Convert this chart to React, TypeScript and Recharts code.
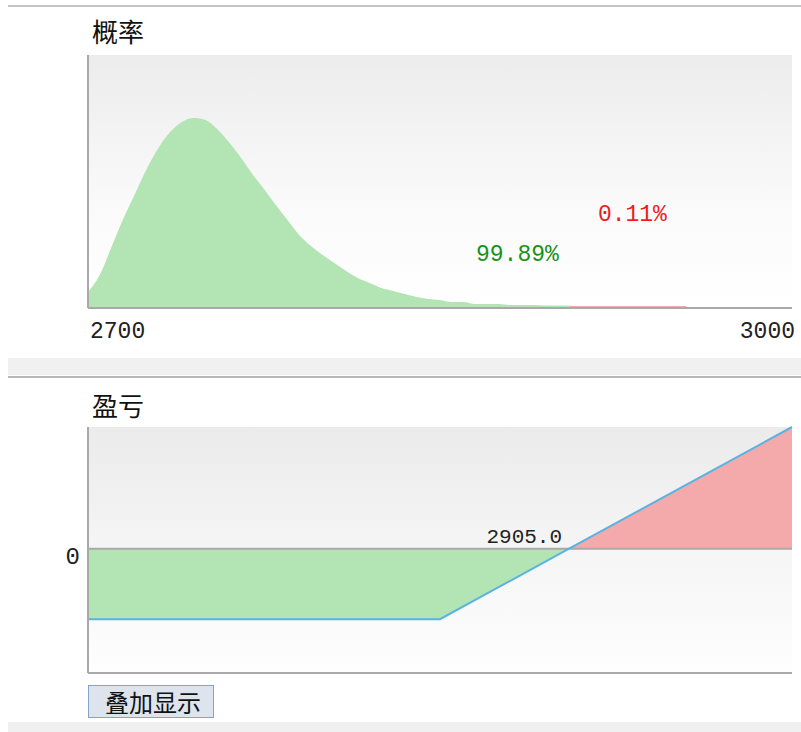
import React from 'react';
import {
  AreaChart,
  ComposedChart,
  Area,
  Line,
  XAxis,
  YAxis,
  CartesianGrid,
  ReferenceLine,
  ReferenceDot,
} from 'recharts';

// probability distribution of the underlying price at expiry
const prices = [
  2700, 2705, 2710, 2715, 2720, 2725, 2730, 2735, 2740, 2745, 2750, 2755, 2760,
  2765, 2770, 2775, 2780, 2785, 2790, 2795, 2800, 2805, 2810, 2815, 2820, 2825,
  2830, 2835, 2840, 2845, 2850, 2855, 2860, 2865, 2870, 2875, 2880, 2885, 2890,
  2895, 2900, 2905, 2910, 2915, 2920, 2925, 2930, 2935, 2940, 2945, 2950, 2955,
];
const density = [
  1.6, 3.3, 6.1, 8.9, 11.4, 13.9, 16.0, 17.6, 18.6, 19.0, 18.8, 17.9, 16.6,
  15.1, 13.4, 11.9, 10.3, 8.8, 7.3, 6.2, 5.3, 4.5, 3.7, 3.0, 2.5, 2.0,
  1.7, 1.4, 1.1, 0.9, 0.8, 0.6, 0.6, 0.4, 0.4, 0.4, 0.3, 0.3, 0.3,
  0.25, 0.25, 0.22, 0.2, 0.2, 0.2, 0.2, 0.2, 0.2, 0.2, 0.2, 0.2, 0.2,
];
const priceTicks = [2700, 3000];
const breakEven = 2905;
const probBelow = '99.89%';
const probAbove = '0.11%';

// profit / loss at expiry
const payoffPrices = [2700, 2850, 2905, 3000];
const payoffValues = [-55, -55, 0, 95];

const mono = "'Liberation Mono', 'DejaVu Sans Mono', monospace";
const cjk = "'Noto Sans CJK SC', sans-serif";
const axisGray = '#a9a9a9';

const probData = prices.map((p, i) => ({
  price: p,
  green: p <= breakEven ? density[i] : null,
  red: p >= breakEven ? density[i] : null,
}));

const payoffData = payoffPrices.map((p, i) => ({
  price: p,
  pnl: payoffValues[i],
  loss: payoffValues[i] <= 0 ? payoffValues[i] : null,
  gain: payoffValues[i] >= 0 ? payoffValues[i] : null,
}));

const PriceTick = (props: any) => {
  const { x, y, payload, index } = props;
  const first = index === 0;
  return (
    <text
      x={first ? x + 2 : x + 10}
      y={y}
      dy="0.71em"
      textAnchor={first ? 'start' : 'end'}
      fontSize={23}
      fontFamily={mono}
      fill="#222"
    >
      {payload.value}
    </text>
  );
};

const ZeroTick = (props: any) => {
  const { x, y, payload } = props;
  return (
    <text x={x} y={y + 7} dy="0.35em" textAnchor="end" fontSize={24} fontFamily={mono} fill="#222">
      {payload.value}
    </text>
  );
};

const BreakEvenLabel = (props: any) => {
  const { viewBox } = props;
  return (
    <text
      x={viewBox.x - 7}
      y={viewBox.y - 6}
      textAnchor="end"
      fontSize={21}
      fontFamily={mono}
      fill="#222"
    >
      {breakEven.toFixed(1)}
    </text>
  );
};

const title: React.CSSProperties = {
  position: 'absolute',
  left: 92,
  fontFamily: cjk,
  fontSize: 26,
  lineHeight: '27px',
  color: '#111',
};

export default function App() {
  return (
    <div style={{ position: 'absolute', left: 0, top: 0, width: 801, height: 732, background: '#fff', overflow: 'hidden' }}>
      <div style={{ position: 'absolute', left: 8, top: 5, width: 793, height: 2, background: '#c4c4c4' }} />
      <div style={{ ...title, top: 17 }}>概率</div>

      <div style={{ position: 'absolute', left: 0, top: 0 }}>
        <AreaChart width={801} height={350} data={probData} margin={{ top: 55, right: 9, bottom: 12, left: 0 }}>
          <defs>
            <linearGradient id="bgTop" x1="0" y1="0" x2="0" y2="1">
              <stop offset="0%" stopColor="#ececec" />
              <stop offset="60%" stopColor="#fafafa" />
              <stop offset="100%" stopColor="#ffffff" />
            </linearGradient>
          </defs>
          <CartesianGrid horizontal={false} vertical={false} fill="url(#bgTop)" />
          <XAxis
            dataKey="price"
            type="number"
            domain={[2700, 3000]}
            ticks={priceTicks}
            tick={<PriceTick />}
            tickLine={false}
            tickSize={0}
            tickMargin={14}
            height={30}
            axisLine={{ stroke: axisGray, strokeWidth: 2 }}
          />
          <YAxis
            type="number"
            domain={[0, 25.3]}
            width={88}
            tick={false}
            tickLine={false}
            axisLine={{ stroke: axisGray, strokeWidth: 2 }}
          />
          <Area
            dataKey="green"
            type="monotone"
            stroke="none"
            fill="#b3e4b4"
            fillOpacity={1}
            baseValue={0}
            isAnimationActive={false}
          />
          <Area
            dataKey="red"
            type="monotone"
            stroke="none"
            fill="#f4a9aa"
            fillOpacity={1}
            baseValue={0}
            isAnimationActive={false}
          />
          <ReferenceDot
            x={2883}
            y={5.5}
            r={0}
            fill="none"
            stroke="none"
            label={{ value: probBelow, position: 'center', fill: '#1a921a', fontSize: 23, fontFamily: mono }}
          />
          <ReferenceDot
            x={2932}
            y={9.5}
            r={0}
            fill="none"
            stroke="none"
            label={{ value: probAbove, position: 'center', fill: '#f01c1c', fontSize: 23, fontFamily: mono }}
          />
        </AreaChart>
      </div>

      <div style={{ position: 'absolute', left: 8, top: 358, width: 793, height: 17, background: '#f0f0f0' }} />
      <div style={{ position: 'absolute', left: 8, top: 376, width: 793, height: 2, background: '#b8b8b8' }} />
      <div style={{ ...title, top: 391 }}>盈亏</div>

      <div style={{ position: 'absolute', left: 0, top: 380 }}>
        <ComposedChart width={801} height={300} data={payoffData} margin={{ top: 47, right: 9, bottom: 5, left: 0 }}>
          <defs>
            <linearGradient id="bgPnl" x1="0" y1="0" x2="0" y2="1">
              <stop offset="0%" stopColor="#ebebeb" />
              <stop offset="50%" stopColor="#f5f5f5" />
              <stop offset="100%" stopColor="#fefefe" />
            </linearGradient>
          </defs>
          <CartesianGrid horizontal={false} vertical={false} fill="url(#bgPnl)" />
          <XAxis
            dataKey="price"
            type="number"
            domain={[2700, 3000]}
            tick={false}
            tickLine={false}
            height={2}
            axisLine={{ stroke: axisGray, strokeWidth: 2 }}
          />
          <YAxis
            type="number"
            domain={[-97, 95]}
            ticks={[0]}
            width={88}
            tick={<ZeroTick />}
            tickLine={false}
            tickSize={0}
            tickMargin={8}
            axisLine={{ stroke: axisGray, strokeWidth: 2 }}
          />
          <Area
            dataKey="loss"
            type="linear"
            stroke="none"
            fill="#b3e4b4"
            fillOpacity={1}
            baseValue={0}
            isAnimationActive={false}
          />
          <Area
            dataKey="gain"
            type="linear"
            stroke="none"
            fill="#f4a9aa"
            fillOpacity={1}
            baseValue={0}
            isAnimationActive={false}
          />
          <ReferenceLine y={0} stroke={axisGray} strokeWidth={2} />
          <Line
            dataKey="pnl"
            type="linear"
            stroke="#5ab3e3"
            strokeWidth={2}
            dot={false}
            isAnimationActive={false}
          />
          <ReferenceDot x={breakEven} y={0} r={0} fill="none" stroke="none" label={<BreakEvenLabel />} />
        </ComposedChart>
      </div>

      <div
        style={{
          position: 'absolute',
          left: 88,
          top: 685,
          width: 108,
          height: 31,
          background: '#dde4ee',
          border: '1px solid #86a2c4',
          fontFamily: cjk,
          fontSize: 24,
          lineHeight: '31px',
          paddingLeft: 16,
          boxSizing: 'content-box',
          color: '#111',
        }}
      >
        叠加显示
      </div>
      <div style={{ position: 'absolute', left: 8, top: 722, width: 793, height: 10, background: '#f0f0f0' }} />
    </div>
  );
}
